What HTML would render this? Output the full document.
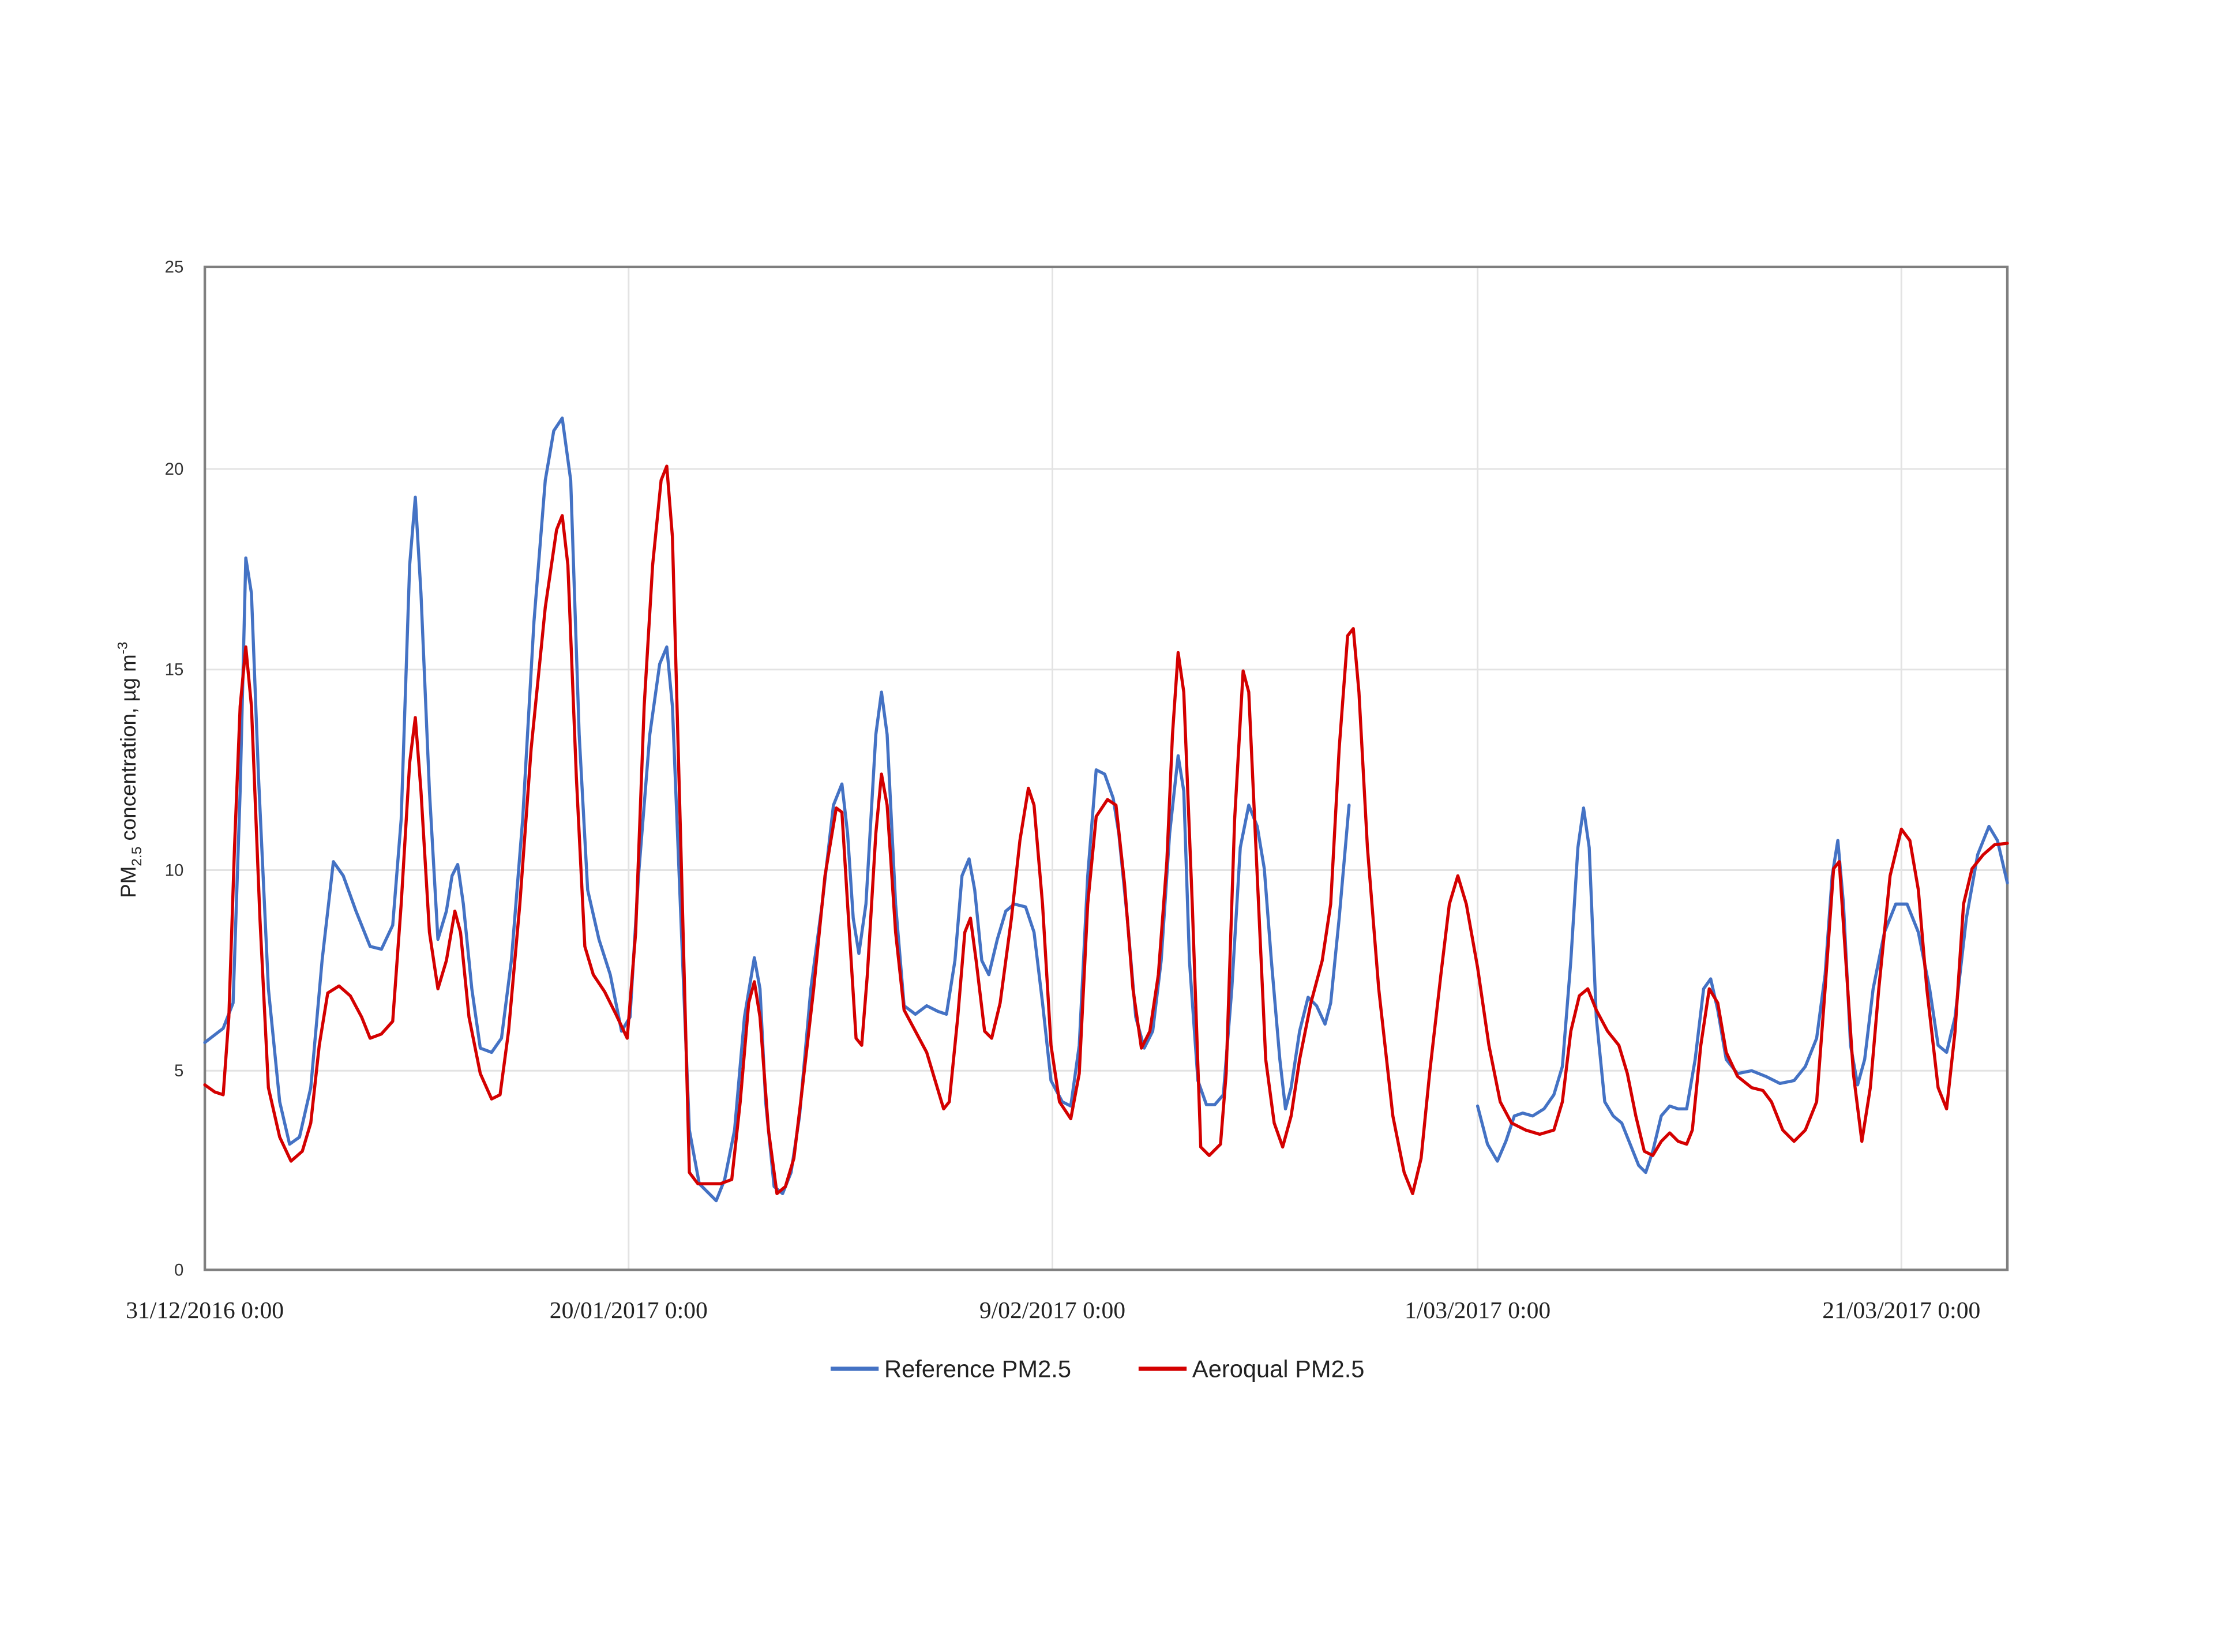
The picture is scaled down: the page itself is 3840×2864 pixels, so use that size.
<!DOCTYPE html>
<html><head><meta charset="utf-8"><style>
html,body{margin:0;padding:0;background:#fff;}
svg{display:block;}
</style></head><body>
<svg width="3840" height="2864" viewBox="0 0 1568 1169.5" preserveAspectRatio="none" xmlns="http://www.w3.org/2000/svg">
<rect x="0" y="0" width="1568" height="1170" fill="#fff"/>
<g stroke="#e3e3e3" stroke-width="1.2">
<line x1="145" y1="332" x2="1421" y2="332"/>
<line x1="145" y1="474" x2="1421" y2="474"/>
<line x1="145" y1="616" x2="1421" y2="616"/>
<line x1="145" y1="758" x2="1421" y2="758"/>
<line x1="445" y1="189" x2="445" y2="899"/>
<line x1="745" y1="189" x2="745" y2="899"/>
<line x1="1046" y1="189" x2="1046" y2="899"/>
<line x1="1346" y1="189" x2="1346" y2="899"/>
</g>
<rect x="145" y="189" width="1276" height="710" fill="none" stroke="#7f7f7f" stroke-width="1.8"/>
<g font-family="Liberation Sans, sans-serif" font-size="12" fill="#333" text-anchor="end">
<text x="130" y="193">25</text><text x="130" y="336">20</text><text x="130" y="478">15</text><text x="130" y="620">10</text><text x="130" y="762">5</text><text x="130" y="903">0</text>
</g>
<g font-family="Liberation Serif, serif" font-size="17" fill="#222" text-anchor="middle">
<text x="145" y="933">31/12/2016 0:00</text>
<text x="445" y="933">20/01/2017 0:00</text>
<text x="745" y="933">9/02/2017 0:00</text>
<text x="1046" y="933">1/03/2017 0:00</text>
<text x="1346" y="933">21/03/2017 0:00</text>
</g>
<text transform="translate(96,545) rotate(-90)" font-family="Liberation Sans, sans-serif" font-size="15" fill="#222" text-anchor="middle">PM<tspan font-size="10" dy="4">2.5</tspan><tspan dy="-4"> concentration, µg m</tspan><tspan font-size="10" dy="-6">-3</tspan></text>
<g fill="none" stroke-width="2.2" stroke-linejoin="round" stroke-linecap="round">
<polyline stroke="#4472C4" points="145,738 158,728 165,710 170,560 174,395 178,420 183,550 190,700 198,780 205,810 212,805 220,770 228,680 236,610 243,620 252,645 262,670 270,672 278,655 284,580 290,400 294,352 298,420 304,560 310,665 316,645 320,620 324,612 328,640 334,700 340,742 348,745 355,735 362,680 370,580 378,440 386,340 392,305 398,296 404,340 410,520 416,630 424,665 432,690 440,730 446,720 452,620 460,520 467,470 472,458 476,500 482,650 488,800 495,838 502,845 507,850 513,835 520,800 527,720 534,678 538,700 542,780 548,840 554,845 560,830 566,790 574,700 582,640 590,570 596,555 600,590 604,650 608,675 613,640 620,520 624,490 628,520 634,640 640,712 648,718 656,712 664,716 670,718 676,680 681,620 686,608 690,630 695,680 700,690 706,665 712,645 718,640 726,642 732,660 738,710 744,765 752,780 758,783 764,740 770,620 776,545 782,548 788,565 792,590 798,650 804,720 810,742 816,730 822,680 828,590 834,535 838,560 842,680 848,765 854,782 860,782 866,775 872,700 878,600 884,570 890,585 895,615 900,680 906,750 910,785 914,770 920,730 926,706 932,712 938,725 942,710 948,650 955,570"/>
<polyline stroke="#4472C4" points="1046,783 1053,810 1060,822 1066,808 1072,790 1078,788 1085,790 1093,785 1100,775 1106,755 1112,680 1117,600 1121,572 1125,600 1130,720 1136,780 1142,790 1148,795 1154,810 1160,825 1165,830 1170,815 1176,790 1182,783 1188,785 1194,785 1200,750 1206,700 1211,693 1216,715 1222,750 1230,760 1240,758 1250,762 1260,767 1270,765 1278,755 1286,735 1292,690 1297,620 1301,595 1305,640 1310,740 1315,768 1320,750 1326,700 1334,660 1342,640 1350,640 1358,660 1366,700 1372,740 1378,745 1384,720 1392,650 1400,605 1408,585 1414,595 1421,625"/>
<polyline stroke="#D40000" points="145,768 152,773 158,775 162,720 166,600 170,500 174,458 178,500 184,650 190,770 198,805 206,822 214,815 220,795 226,740 232,703 240,698 248,705 256,720 262,735 270,732 278,723 284,640 290,540 294,508 298,560 304,660 310,700 316,680 322,645 326,660 332,720 340,760 348,778 354,775 360,730 368,640 376,530 386,430 394,375 398,365 402,400 408,550 414,670 420,690 428,702 436,718 444,735 450,660 456,500 462,400 468,340 472,330 476,380 482,600 488,830 494,838 502,838 510,838 518,835 524,780 530,710 534,695 538,720 544,800 550,845 556,840 562,820 568,770 576,700 584,620 592,572 596,575 600,640 606,735 610,740 614,690 620,590 624,548 628,570 634,660 640,715 648,730 656,745 662,765 668,785 672,780 678,720 683,660 687,650 691,680 697,730 702,735 708,710 716,650 722,595 728,558 732,570 738,640 744,740 750,780 758,792 764,760 770,640 776,578 784,566 790,570 796,625 802,700 808,742 814,730 820,690 826,610 830,520 834,462 838,490 844,640 850,812 856,818 864,810 868,760 874,580 880,475 884,490 890,620 896,750 902,795 908,812 914,790 920,750 928,710 936,680 942,640 948,530 954,450 958,445 962,490 968,600 976,700 986,790 994,830 1000,845 1006,820 1012,760 1020,690 1026,640 1032,620 1038,640 1046,685 1054,740 1062,780 1070,795 1080,800 1090,803 1100,800 1106,780 1112,730 1118,705 1124,700 1130,715 1138,730 1146,740 1152,760 1158,790 1164,815 1170,818 1176,808 1182,802 1188,808 1194,810 1198,800 1204,740 1210,700 1216,710 1222,745 1230,762 1240,770 1248,772 1254,780 1262,800 1270,808 1278,800 1286,780 1292,700 1298,615 1302,610 1306,670 1312,760 1318,808 1324,770 1330,700 1338,620 1346,587 1352,595 1358,630 1364,700 1372,770 1378,785 1384,730 1390,640 1396,615 1404,605 1412,598 1421,597"/>
</g>
<line x1="588" y1="969" x2="622" y2="969" stroke="#4472C4" stroke-width="3"/>
<line x1="806" y1="969" x2="840" y2="969" stroke="#D40000" stroke-width="3"/>
<g font-family="Liberation Sans Narrow, Liberation Sans, sans-serif" font-size="17" fill="#222">
<text x="626" y="975">Reference PM2.5</text>
<text x="844" y="975">Aeroqual PM2.5</text>
</g>
</svg>
</body></html>
